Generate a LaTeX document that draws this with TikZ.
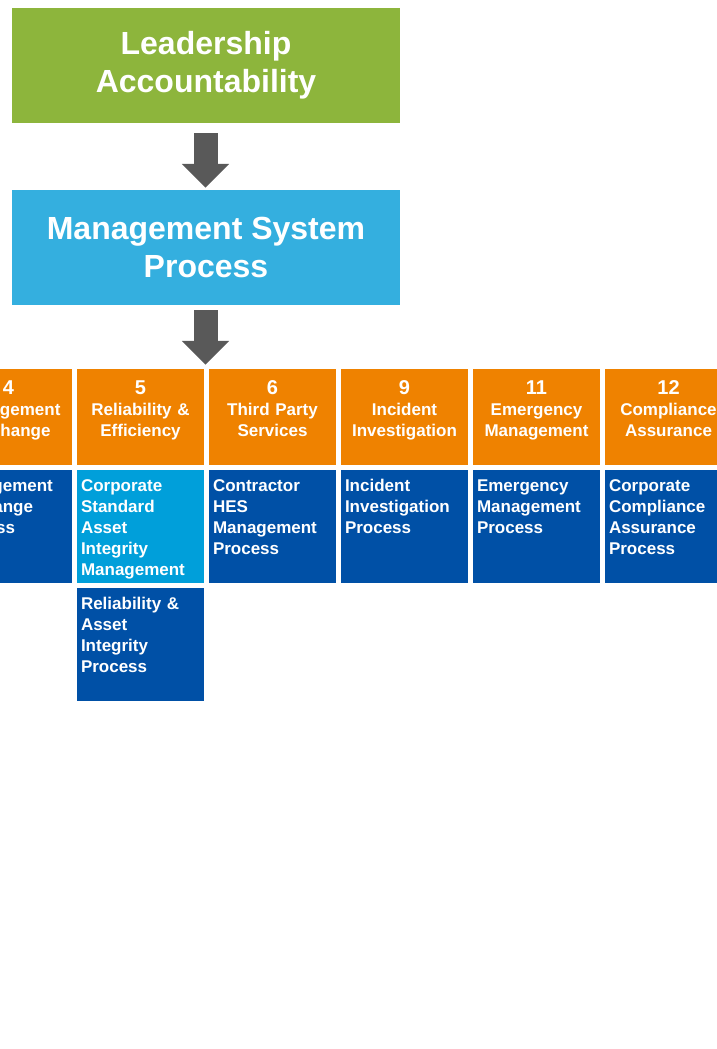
\documentclass[tikz,border=0pt]{standalone}
\usepackage{fontspec}
\setmainfont{Liberation Sans}
\usetikzlibrary{arrows.meta, positioning}

\definecolor{leadgreen}{HTML}{8DB53C}
\definecolor{msblue}{HTML}{34AFDF}
\definecolor{elemorange}{HTML}{EF8200}
\definecolor{procblue}{HTML}{0050A6}
\definecolor{stdblue}{HTML}{009FDA}
\definecolor{flowgray}{HTML}{595959}

\newcommand{\elemnum}[1]{{\fontsize{20}{22}\selectfont #1}}

\begin{document}
\begin{tikzpicture}[x=1pt, y=1pt, on grid, text=white,
    top/.style={fill=#1, minimum width=388pt, minimum height=115pt,
      align=center, inner sep=0pt, font=\bfseries\fontsize{32}{38}\selectfont},
    element/.style={fill=elemorange, minimum width=127pt, inner sep=0pt,
      text width=127pt, align=center, text height=25pt, text depth=71pt,
      font=\bfseries\fontsize{17}{21}\selectfont},
    process/.style={fill=procblue, minimum width=127pt, inner xsep=4pt, inner ysep=0pt,
      text width=119pt, align=left, text height=21pt, text depth=92pt,
      font=\bfseries\fontsize{17}{21}\selectfont},
    flow/.style={draw=flowgray, line width=24pt,
      -{Triangle[length=24pt, width=46pt]}}]
   \useasboundingbox (0,0) rectangle (717,-1049);

   \node[top=leadgreen] (lead) at (206,-65.5) {Leadership\\Accountability};
   \node[top=msblue] (msp) [below=182pt of lead] {Management System\\Process};

   % element headers
   \node[element] (h5) at (140.5,-417) {\elemnum{5}\\Reliability \&\\Efficiency};
   \node[element] (h4) [left=132pt of h5] {\elemnum{4}\\Management\\of Change};
   \node[element] (h6) [right=132pt of h5] {\elemnum{6}\\Third Party\\Services};
   \node[element] (h9) [right=132pt of h6] {\elemnum{9}\\Incident\\Investigation};
   \node[element] (h11) [right=132pt of h9] {\elemnum{11}\\Emergency\\Management};
   \node[element] (h12) [right=132pt of h11] {\elemnum{12}\\Compliance\\Assurance};

   % processes under each element
   \node[process] (p4) [below=109.5pt of h4] {Management\\of Change\\Process};
   \node[process, fill=stdblue] (p5) [below=109.5pt of h5] {Corporate\\Standard\\Asset\\Integrity\\Management};
   \node[process] (p6) [below=109.5pt of h6] {Contractor\\HES\\Management\\Process};
   \node[process] (p9) [below=109.5pt of h9] {Incident\\Investigation\\Process};
   \node[process] (p11) [below=109.5pt of h11] {Emergency\\Management\\Process};
   \node[process] (p12) [below=109.5pt of h12] {Corporate\\Compliance\\Assurance\\Process};
   \node[process] (p5b) [below=118pt of p5] {Reliability \&\\Asset\\Integrity\\Process};

   \coordinate (row) at ([xshift=-0.5pt]msp.south |- h5.north);

   \draw[flow, shorten <=10pt, shorten >=2pt] ([xshift=-0.5pt]lead.south) -- ([xshift=-0.5pt]msp.north);
   \draw[flow, shorten <=5pt, shorten >=4pt] ([xshift=-0.5pt]msp.south) -- (row);
\end{tikzpicture}
\end{document}
